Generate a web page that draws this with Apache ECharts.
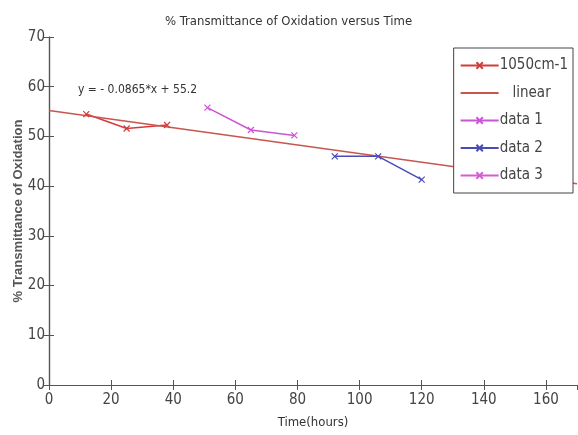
<!DOCTYPE html>
<html>
<head>
<meta charset="utf-8">
<script src="https://cdn.jsdelivr.net/npm/echarts@6/dist/echarts.min.js"></script>
<style>html,body{margin:0;padding:0;background:#fff}#c{width:578px;height:435px}</style>
</head>
<body>
<div id="c"></div>
<script>
const titleText = '% Transmittance of Oxidation versus Time';
const xName = 'Time(hours)';
const yName = '% Transmittance of Oxidation';
const equationText = 'y = - 0.0865*x + 55.2';
const seriesNames = ['1050cm-1', 'linear', 'data 1', 'data 2', 'data 3'];
const red1050 = [[12, 54.5], [25, 51.6], [38, 52.3]];
const fitSlope = -0.0865, fitIntercept = 55.2;
const linearFit = [[0, fitIntercept], [170, fitIntercept + fitSlope * 170]];
const data1 = [[51, 55.8], [65, 51.3], [79, 50.2]];
const data2 = [[92, 46.0], [106, 46.0], [120, 41.3]];
const data3 = [];
const xTicks = {min: 0, max: 170, interval: 20};
const yTicks = {min: 0, max: 70, interval: 10};

const FONT = '"DejaVu Sans Condensed", "Liberation Sans", sans-serif';
const crossPath = 'path://M0,0L10,10M10,0L0,10';
function mk(name, data, color, showMarks) {
  return {
    name, type: 'line', data,
    symbol: crossPath, symbolSize: 6,
    showSymbol: showMarks,
    color,
    lineStyle: {color, width: 1.5},
    itemStyle: {color: 'rgba(0,0,0,0)', borderColor: showMarks ? color : 'rgba(0,0,0,0)', borderWidth: 1.2},
    emphasis: {disabled: true},
    animation: false
  };
}
const axisLine = {show: true, lineStyle: {color: '#555', width: 1.2}};
const chart = echarts.init(document.getElementById('c'));
chart.setOption({
  backgroundColor: '#fff',
  title: {text: titleText, left: 160, top: 10,
    textStyle: {fontFamily: FONT, fontSize: 13, fontWeight: 'normal', color: '#333'}},
  grid: {left: 49, right: 1, top: 37, bottom: 50, containLabel: false, outerBoundsMode: 'none'},
  legend: {
    orient: 'vertical', right: 5, top: 48,
    data: seriesNames,
    backgroundColor: '#fff', borderColor: '#444', borderWidth: 1,
    padding: [10, 5, 10, 6], itemGap: 12.5, itemWidth: 38, itemHeight: 8,
    textStyle: {fontFamily: FONT, fontSize: 15, color: '#444', padding: [0, 0, 0, -4]},
    formatter: n => n === 'linear' ? '   linear' : n
  },
  graphic: [{type: 'text', left: 78, top: 84,
    style: {text: equationText, font: '12px ' + FONT, fill: '#333'}}],
  xAxis: [{
    type: 'value', min: xTicks.min, max: xTicks.max, interval: xTicks.interval,
    name: xName, nameLocation: 'middle', nameGap: 31, nameMoveOverlap: false,
    nameTextStyle: {fontFamily: FONT, fontSize: 13, color: '#333'},
    axisLine, axisTick: {show: true, inside: true, length: 5, lineStyle: {color: '#555'}},
    axisLabel: {fontFamily: FONT, fontSize: 15, color: '#444', margin: 8, showMaxLabel: false},
    splitLine: {show: false}
  }, {
    type: 'value', position: 'top', min: xTicks.min, max: xTicks.max, interval: xTicks.interval,
    axisLine, axisTick: {show: true, inside: true, length: 5, lineStyle: {color: '#555'}},
    axisLabel: {show: false}, splitLine: {show: false}
  }],
  yAxis: [{
    type: 'value', min: yTicks.min, max: yTicks.max, interval: yTicks.interval,
    name: yName, nameLocation: 'middle', nameGap: 24, nameMoveOverlap: false,
    nameTextStyle: {fontFamily: '"Liberation Sans", sans-serif', fontSize: 13, fontWeight: 'bold', color: '#555'},
    axisLine, axisTick: {show: true, inside: true, length: 5, lineStyle: {color: '#555'}},
    axisLabel: {fontFamily: FONT, fontSize: 15, color: '#444', margin: 4},
    splitLine: {show: false}
  }, {
    type: 'value', position: 'right', min: yTicks.min, max: yTicks.max, interval: yTicks.interval,
    axisLine, axisTick: {show: true, inside: true, length: 5, lineStyle: {color: '#555'}},
    axisLabel: {show: false}, splitLine: {show: false}
  }],
  series: [
    mk('1050cm-1', red1050, '#d43c3c', true),
    mk('linear', linearFit, '#c8564e', false),
    mk('data 1', data1, '#cc55d6', true),
    mk('data 2', data2, '#4a4ab8', true),
    mk('data 3', data3, '#d85ad8', true)
  ]
});
</script>
</body>
</html>
